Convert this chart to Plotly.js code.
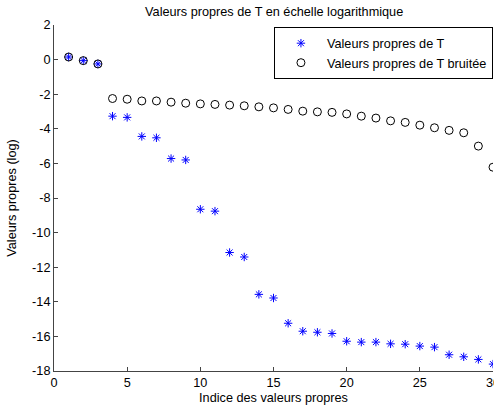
<!DOCTYPE html>
<html>
<head>
<meta charset="utf-8">
<script src="https://cdn.plot.ly/plotly-3.0.1.min.js"></script>
<style>html,body{margin:0;padding:0;background:#fff;}#chart{width:494px;height:410px;}</style>
</head>
<body>
<div id="chart"></div>
<script>
const indices = [1,2,3,4,5,6,7,8,9,10,11,12,13,14,15,16,17,18,19,20,21,22,23,24,25,26,27,28,29,30];
const valeursT = [0.15,-0.06,-0.25,-3.27,-3.34,-4.44,-4.52,-5.72,-5.8,-8.65,-8.76,-11.15,-11.41,-13.57,-13.78,-15.24,-15.7,-15.76,-15.83,-16.28,-16.33,-16.33,-16.43,-16.45,-16.56,-16.62,-17.06,-17.18,-17.33,-17.6];
const valeursTbruitee = [0.15,-0.06,-0.25,-2.25,-2.29,-2.39,-2.39,-2.46,-2.52,-2.56,-2.59,-2.63,-2.67,-2.73,-2.79,-2.88,-2.98,-3.02,-3.05,-3.14,-3.27,-3.38,-3.54,-3.63,-3.79,-3.94,-4.09,-4.23,-5.0,-6.22];
const xTicks = [0,5,10,15,20,25,30];
const xTickLabels = ['0','5','10','15','20','25','30'];
const yTicks = [-18,-16,-14,-12,-10,-8,-6,-4,-2,0,2];
const yTickLabels = ['-18','-16','-14','-12','-10','-8','-6','-4','-2','0','2'];

const font = {family: 'Liberation Sans, Arial, sans-serif', size: 12.7, color: '#000'};
const data = [
  {x: indices, y: valeursT, type: 'scatter', mode: 'markers', name: 'Valeurs propres de T',
   marker: {symbol: 'asterisk-open', size: 7, color: '#0000ff', line: {color: '#0000ff', width: 1}}},
  {x: indices, y: valeursTbruitee, type: 'scatter', mode: 'markers', name: 'Valeurs propres de T bruitée',
   marker: {symbol: 'circle-open', size: 8, color: '#000', line: {color: '#000', width: 1}}}
];
const layout = {
  width: 494, height: 410,
  margin: {l: 54, r: 1, t: 25, b: 39},
  paper_bgcolor: '#fff', plot_bgcolor: '#fff',
  font: font,
  showlegend: true,
  title: {text: 'Valeurs propres de T en échelle logarithmique', font: font, x: 0.555, xanchor: 'center', y: 0.972, yanchor: 'middle'},
  xaxis: {range: [0, 30], tickvals: xTicks, ticktext: xTickLabels, ticks: 'inside', ticklen: 4,
    showline: true, linecolor: '#444', linewidth: 1, showgrid: false, zeroline: false, mirror: false,
    ticklabeloverflow: 'allow',
    tickfont: font, title: {text: 'Indice des valeurs propres', font: font, standoff: 3}, automargin: false},
  yaxis: {range: [-18, 2], tickvals: yTicks, ticktext: yTickLabels, ticks: 'inside', ticklen: 4,
    showline: true, linecolor: '#444', linewidth: 1, showgrid: false, zeroline: false, mirror: false,
    tickfont: font, title: {text: 'Valeurs propres (log)', font: font, standoff: 12}, automargin: false},
  legend: {x: 0.501, y: 0.993, xanchor: 'left', yanchor: 'top', bgcolor: '#fff', bordercolor: '#000', borderwidth: 1,
    font: font, tracegroupgap: 0, itemwidth: 42}
};
Plotly.newPlot('chart', data, layout, {staticPlot: true});
</script>
</body>
</html>
